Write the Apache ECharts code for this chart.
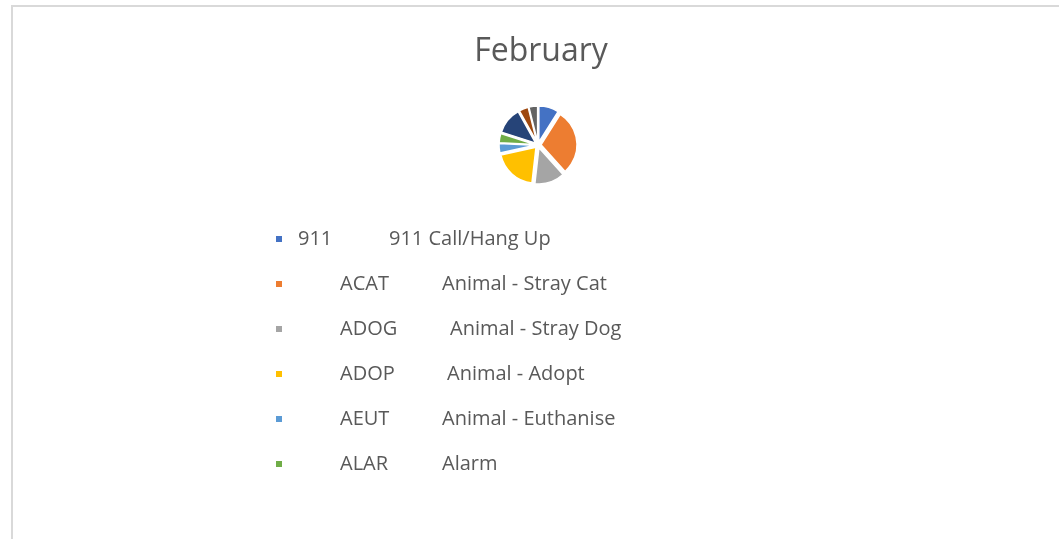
<!DOCTYPE html>
<html><head><meta charset="utf-8">
<script src="https://cdn.jsdelivr.net/npm/echarts@6/dist/echarts.min.js"></script>
<style>
html,body{margin:0;padding:0;background:#fff;}
#frame{position:absolute;left:11px;top:5px;width:1048px;height:534px;border-top:2px solid #d9d9d9;border-left:2px solid #d9d9d9;box-sizing:border-box;}
#main{position:absolute;left:0;top:0;width:1059px;height:539px;}
</style></head>
<body>
<div id="frame"></div>
<div id="main"></div>
<script>
// Data
const codes = ['911', 'ACAT', 'ADOG', 'ADOP', 'AEUT', 'ALAR', 'Category 7', 'Category 8', 'Category 9'];
const descriptions = ['911 Call/Hang Up', 'Animal - Stray Cat', 'Animal - Stray Dog', 'Animal - Adopt', 'Animal - Euthanise', 'Alarm', '', '', ''];
const values = [30, 98, 45, 66, 14, 14, 40, 14, 13];
const colors = ['#4472C4', '#ED7D31', '#A5A5A5', '#FFC000', '#5B9BD5', '#70AD47', '#264478', '#9E480E', '#636363'];
const legendShown = ['911', 'ACAT', 'ADOG', 'ADOP', 'AEUT', 'ALAR'];

// Layout of legend text columns (presentation only)
const padW = [10, 52, 52, 52, 52, 52];
const codeW = [91, 102, 110, 107, 102, 102];
const FS = 20;

const rich = {};
padW.forEach((w, i) => {
  rich['p' + i] = { width: w, fontSize: FS, fontFamily: 'Open Sans', color: '#595959' };
  rich['c' + i] = { width: codeW[i], fontSize: FS, fontFamily: 'Open Sans', color: '#595959' };
});
rich.d = { fontSize: FS, fontFamily: 'Open Sans', color: '#595959' };

const chart = echarts.init(document.getElementById('main'));
chart.setOption({
  animation: false,
  title: {
    text: 'February', left: 536, top: 31, textAlign: 'center',
    textStyle: { fontSize: 32, fontWeight: 'normal', color: '#595959', fontFamily: 'Open Sans' }
  },
  legend: {
    orient: 'vertical', left: 274, top: 229, padding: 0,
    data: legendShown,
    icon: 'rect', itemWidth: 8, itemHeight: 8, itemGap: 25,
    selectedMode: false,
    textStyle: { fontSize: FS, color: '#595959', fontFamily: 'Open Sans', rich: rich },
    formatter: function (name) {
      const i = codes.indexOf(name);
      return '{p' + i + '| }{c' + i + '|' + name + '}{d|' + descriptions[i] + '}';
    }
  },
  series: [{
    type: 'pie',
    center: [538, 145], radius: [0, 36],
    startAngle: 90, clockwise: true,
    selectedMode: 'multiple', selectedOffset: 3,
    label: { show: false }, labelLine: { show: false },
    emphasis: { disabled: true },
    itemStyle: { borderColor: '#fff', borderWidth: 1.5 },
    data: codes.map((c, i) => ({ name: c, value: values[i], selected: true, itemStyle: { color: colors[i] } }))
  }]
});
</script>
</body></html>
